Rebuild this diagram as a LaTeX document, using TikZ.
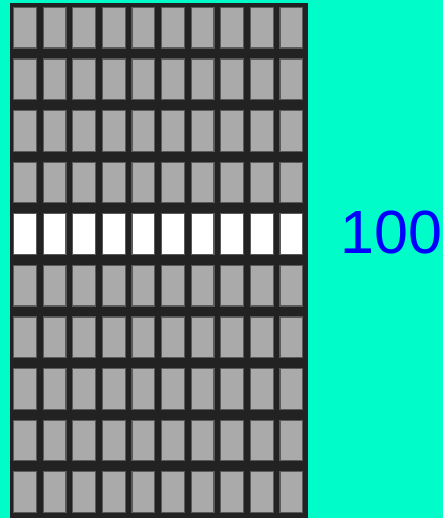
\documentclass[tikz,border=0pt]{standalone}
\usepackage{fontspec}
\setmainfont{Liberation Sans}
\definecolor{bgaqua}{HTML}{00FCC8}
\definecolor{panelgray}{HTML}{222222}
\definecolor{cellgray}{HTML}{AAAAAA}
\definecolor{celledge}{HTML}{5A5A5A}
\definecolor{countblue}{HTML}{0000FF}

\begin{document}
\begin{tikzpicture}[x=1pt,y=-1pt,
  cellbox/.style={fill=cellgray,draw=celledge,line width=1.2pt},
  litbox/.style={fill=white,draw=celledge,line width=1.2pt}]
\fill[bgaqua] (0,0) rectangle (443,518);
\fill[panelgray] (10,3) rectangle (308,518);
% ten rows of ten cells, the fifth row lit
\foreach \r in {0,...,9}
  \foreach \c in {0,...,9} {
    \ifnum\r=4
      \draw[litbox] ({13.6+\c*29.6},{7.4+\r*51.6}) rectangle ++(22.8,40.6);
    \else
      \draw[cellbox] ({13.6+\c*29.6},{7.4+\r*51.6}) rectangle ++(22.8,40.6);
    \fi
  }
\node[anchor=base,inner sep=0pt,text=countblue,font=\fontsize{61}{61}\selectfont] (count) at (391.5,253) {100};
\end{tikzpicture}
\end{document}
